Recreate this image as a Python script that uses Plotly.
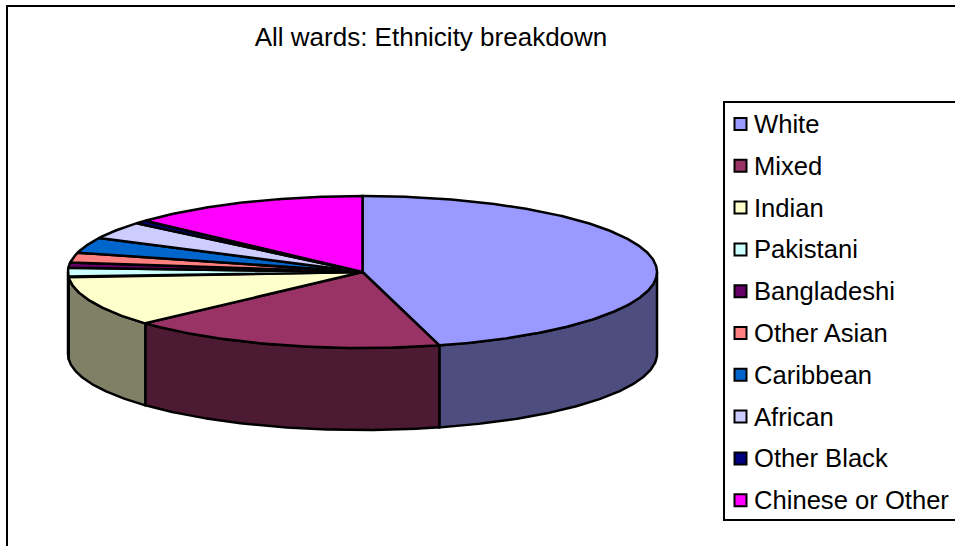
import math
import plotly.graph_objects as go

# Data (percent of all wards)
categories = ["White", "Mixed", "Indian", "Pakistani", "Bangladeshi",
              "Other Asian", "Caribbean", "African", "Other Black", "Chinese or Other"]
values = [45.8, 17.4, 10.7, 2.0, 1.1, 2.1, 3.3, 3.7, 0.7, 13.2]
colors = ["#9999FF", "#993366", "#FFFFCC", "#CCFFFF", "#660066",
          "#FF8080", "#0066CC", "#CCCCFF", "#000080", "#FF00FF"]
side_colors = ["#4D4D80", "#4D1A33", "#808066", "#668080", "#330033",
               "#804040", "#003366", "#666680", "#000040", "#800080"]
title = "All wards: Ethnicity breakdown"

W, H = 955, 546
CX, CY, RX, RY, DEPTH = 362.5, 272.0, 294.5, 76.0, 82.0
LINE = 2.5


def pt(deg, dy=0.0):
    a = math.radians(deg)
    return CX + RX * math.sin(a), CY - RY * math.cos(a) + dy


def arc(a0, a1, dy=0.0):
    n = max(2, int(abs(a1 - a0) * 2) + 1)
    pts = [pt(a0 + (a1 - a0) * i / (n - 1), dy) for i in range(n)]
    return [p[0] for p in pts], [p[1] for p in pts]


total = sum(values)
bounds = [0.0]
for v in values:
    bounds.append(bounds[-1] + v / total * 360)

fig = go.Figure()

# Side wall: only the front half of the rim (90 to 270 degrees) is visible
for i in range(len(values)):
    a0, a1 = max(bounds[i], 90), min(bounds[i + 1], 270)
    if a1 <= a0:
        continue
    tx, ty = arc(a0, a1)
    bx, by = arc(a1, a0, DEPTH)
    fig.add_trace(go.Scatter(x=tx + bx + tx[:1], y=ty + by + ty[:1], mode="lines",
                             fill="toself", fillcolor=side_colors[i],
                             line=dict(color="black", width=LINE),
                             hoverinfo="skip", showlegend=False))

# Top face
for i in range(len(values)):
    ax, ay = arc(bounds[i], bounds[i + 1])
    fig.add_trace(go.Scatter(x=[CX] + ax + [CX], y=[CY] + ay + [CY], mode="lines",
                             fill="toself", fillcolor=colors[i],
                             line=dict(color="black", width=LINE),
                             name=categories[i], showlegend=False))

# Legend rows
LEG_X0, LEG_Y0, LEG_Y1 = 724, 102, 520
row_y = [124 + 41.8 * i for i in range(len(categories))]
fig.add_trace(go.Scatter(x=[740.5] * len(categories), y=row_y, mode="markers",
                         marker=dict(symbol="square", size=12, color=colors,
                                     line=dict(color="black", width=2)),
                         hoverinfo="skip", showlegend=False))
annotations = [dict(x=755, y=y, text=c, xref="x", yref="y", xanchor="left", yanchor="middle",
                    showarrow=False, xshift=-3, font=dict(family="Liberation Sans", size=25.6, color="black"))
               for c, y in zip(categories, row_y)]

fig.update_layout(
    width=W, height=H, autosize=False,
    margin=dict(l=0, r=0, t=0, b=0),
    paper_bgcolor="white", plot_bgcolor="white",
    showlegend=False,
    title=dict(text=title, x=431 / W, xanchor="center", y=1 - 37 / H, yanchor="middle",
               font=dict(family="Liberation Sans", size=26, color="black")),
    xaxis=dict(range=[0, W], visible=False, fixedrange=True),
    yaxis=dict(range=[H, 0], visible=False, fixedrange=True),
    annotations=annotations,
    shapes=[
        dict(type="rect", xref="x", yref="y", x0=7, y0=6, x1=W + 20, y1=H + 20,
             line=dict(color="black", width=2), layer="below"),
        dict(type="rect", xref="x", yref="y", x0=LEG_X0, y0=LEG_Y0, x1=W + 20, y1=LEG_Y1,
             line=dict(color="black", width=2), layer="below"),
    ],
)
fig.write_html("out.html", config={"displayModeBar": False},
               post_script="document.body.style.margin='0';")
